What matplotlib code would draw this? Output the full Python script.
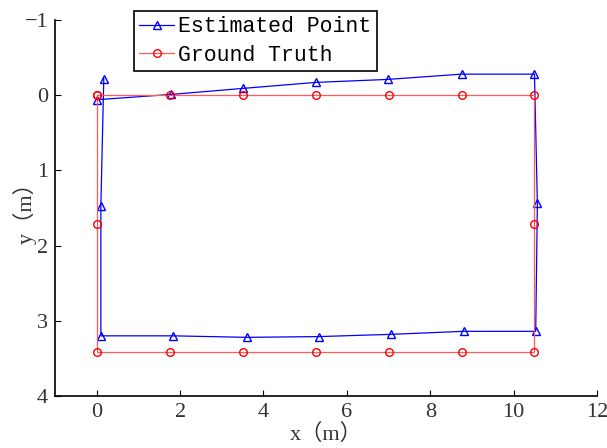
import numpy as np
import matplotlib.pyplot as plt

# ground truth path (m)
gt_x = [0, 1.75, 3.5, 5.25, 7.0, 8.75, 10.5, 10.5, 10.5, 8.75, 7.0, 5.25, 3.5, 1.75, 0, 0, 0]
gt_y = [0, 0, 0, 0, 0, 0, 0, 1.71, 3.42, 3.42, 3.42, 3.42, 3.42, 3.42, 3.42, 1.71, 0]

# estimated points (m)
est_x = [0, 1.78, 3.5, 5.25, 6.98, 8.75, 10.5, 10.57, 10.53, 8.8, 7.07, 5.33, 3.6, 1.83, 0.1, 0.1, 0.17]
est_y = [0.06, -0.01, -0.09, -0.17, -0.21, -0.28, -0.28, 1.44, 3.14, 3.14, 3.18, 3.21, 3.22, 3.2, 3.2, 1.48, -0.22]

xticks = [0, 2, 4, 6, 8, 10, 12]
yticks = [-1, 0, 1, 2, 3, 4]

fig = plt.figure(figsize=(6.07, 4.48), dpi=100)
ax = fig.add_axes([55/607, 52/448, 542/607, 376/448])

ax.plot(est_x, est_y, '-', color='blue', lw=0.9, marker='^', ms=6,
        mfc='none', mec='blue', mew=1.0, label='Estimated Point')
ax.plot(gt_x, gt_y, '-', color=(1, 0.35, 0.35), lw=0.9, marker='o', ms=5.5,
        mfc='none', mec='red', mew=1.0, label='Ground Truth')

ax.set_xlim(-1, 12)
ax.set_ylim(4, -1)
ax.set_xticks(xticks)
ax.set_yticks(yticks)

serif = ['Liberation Serif', 'DejaVu Serif']
ax.set_xticklabels([str(t) for t in xticks], family=serif, fontsize=16, color='#333333')
ax.set_yticklabels([('\u2212' + str(-t)) if t < 0 else str(t) for t in yticks],
                   family=serif, fontsize=16, color='#333333')
ax.tick_params(direction='in', length=4, width=0.8, top=False, right=False, pad=5)

for s in ['top', 'right']:
    ax.spines[s].set_visible(False)
for s in ['left', 'bottom']:
    ax.spines[s].set_linewidth(1.2)

lab_font = ['Liberation Serif', 'Noto Sans CJK SC']
ax.set_xlabel('x\uff08m\uff09', family=lab_font, fontsize=16, color='#333333', labelpad=1)
ax.set_ylabel('y\uff08m\uff09', family=lab_font, fontsize=16, color='#333333', labelpad=-9)

leg = ax.legend(loc='upper left', bbox_to_anchor=((134 - 55)/542, 1.024),
                prop={'family': 'Liberation Mono', 'size': 15.5},
                frameon=True, fancybox=False, edgecolor='black', framealpha=1,
                handlelength=1.6, handletextpad=0.2, borderpad=0.25, labelspacing=0.35,
                borderaxespad=0)
leg.get_frame().set_linewidth(1.2)

fig.savefig('out.png', dpi=100)
